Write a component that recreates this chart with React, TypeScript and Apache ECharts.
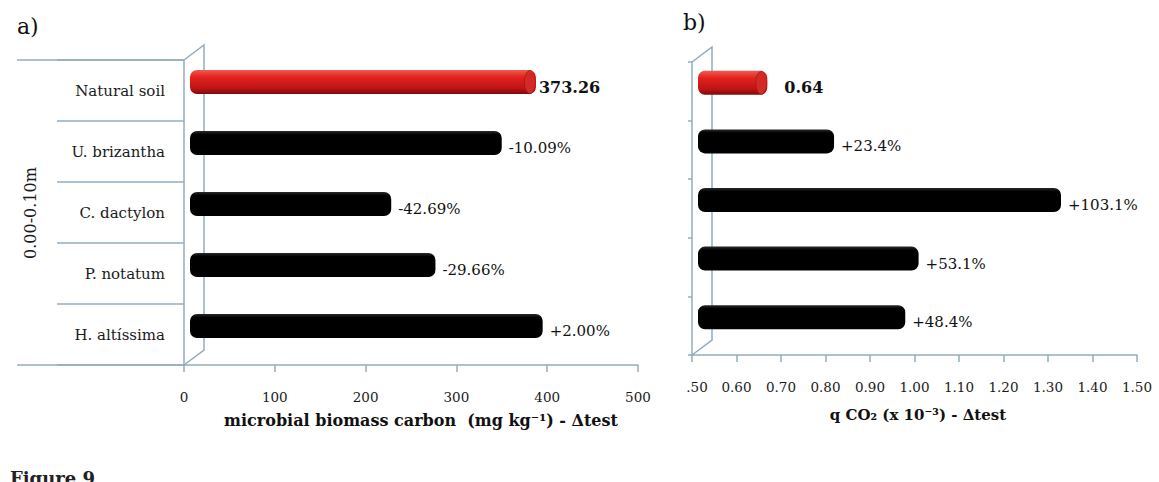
import React, { useEffect, useRef } from "react";
import * as echarts from "echarts";

const categories = ["Natural soil", "U. brizantha", "C. dactylon", "P. notatum", "H. altíssima"];
const biomassValues = [373.26, 335.6, 213.9, 262.6, 380.7];
const biomassLabels = ["373.26", "-10.09%", "-42.69%", "-29.66%", "+2.00%"];
const qco2Values = [0.64, 0.79, 1.3, 0.98, 0.95];
const qco2Labels = ["0.64", "+23.4%", "+103.1%", "+53.1%", "+48.4%"];
const biomassTicks = { min: 0, max: 500, interval: 100 };
const qco2Ticks = { min: 0.5, max: 1.5, interval: 0.1 };

const FONT = "'DejaVu Serif', 'Liberation Serif', serif";
const LINE = "#93acbe";

const A = { left: 184, top: 60, width: 454, height: 305 };
const B = { left: 692, top: 62, width: 445, height: 293 };
const DX = 20;
const DY = 15;

function makeRenderItem(base: number, labels: string[], firstGap: number) {
  return (params: any, api: any) => {
    const v = api.value(0);
    const cat = api.value(1);
    const idx = params.dataIndex;
    const p0 = api.coord([base, cat]);
    const p1 = api.coord([v, cat]);
    const h = 24;
    const cy = p0[1] - 8.5;
    const x0 = p0[0] + 6;
    const x1 = p1[0] + 13;
    const isRed = idx === 0;
    const fill = isRed
      ? new echarts.graphic.LinearGradient(0, 0, 0, 1, [
          { offset: 0, color: "#f05a50" },
          { offset: 0.3, color: "#e3221e" },
          { offset: 0.75, color: "#c01414" },
          { offset: 1, color: "#7e0a0a" },
        ])
      : new echarts.graphic.LinearGradient(0, 0, 0, 1, [
          { offset: 0, color: "#2a2a2a" },
          { offset: 0.15, color: "#000" },
          { offset: 1, color: "#000" },
        ]);
    const children: any[] = [
      {
        type: "rect",
        shape: { x: x0, y: cy - h / 2, width: x1 - x0, height: h, r: 7 },
        style: { fill },
      },
    ];
    if (isRed) {
      children.push({
        type: "ellipse",
        shape: { cx: x1 - 6, cy: cy, rx: 5.5, ry: h / 2 - 0.5 },
        style: { fill: "#d42a26", stroke: "#a01010", lineWidth: 0.6 },
      });
    }
    children.push({
      type: "text",
      style: {
        text: labels[idx],
        x: x1 + (isRed ? firstGap : 7),
        y: cy + 5,
        align: "left",
        verticalAlign: "middle",
        fill: "#111",
        fontFamily: FONT,
        fontSize: isRed ? 16 : 15,
        fontWeight: isRed ? "bold" : "normal",
      },
    });
    return { type: "group", children };
  };
}

export default function App() {
  const ref = useRef<HTMLDivElement>(null);
  useEffect(() => {
    document.body.style.margin = "0";
    if (!ref.current) return;
    const chart = echarts.init(ref.current, undefined, { renderer: "svg" });
    const axisLabelStyle = { color: "#1a1a1a", fontFamily: FONT, fontSize: 13.5 };
    const option: any = {
      animation: false,
      textStyle: { fontFamily: FONT },
      grid: [
        { left: A.left, top: A.top, width: A.width, height: A.height, containLabel: false },
        { left: B.left, top: B.top, width: B.width, height: B.height, containLabel: false },
      ],
      xAxis: [
        {
          type: "value",
          gridIndex: 0,
          min: biomassTicks.min,
          max: biomassTicks.max,
          interval: biomassTicks.interval,
          axisLine: { show: true, lineStyle: { color: LINE, width: 1.5 } },
          axisTick: { show: true, length: 7, lineStyle: { color: LINE, width: 1.5 } },
          axisLabel: { ...axisLabelStyle, margin: 25 },
          splitLine: { show: false },
        },
        {
          type: "value",
          gridIndex: 1,
          min: qco2Ticks.min,
          max: qco2Ticks.max,
          interval: qco2Ticks.interval,
          axisLine: { show: true, lineStyle: { color: LINE, width: 1.5 } },
          axisTick: { show: true, length: 7, lineStyle: { color: LINE, width: 1.5 } },
          axisLabel: {
            ...axisLabelStyle,
            margin: 25,
            formatter: (v: number) => (Math.abs(v - 0.5) < 1e-9 ? "{f|.50}" : v.toFixed(2)),
            rich: { f: { ...axisLabelStyle, padding: [0, 0, 0, 10] } },
          },
          splitLine: { show: false },
        },
      ],
      yAxis: [
        {
          type: "category",
          gridIndex: 0,
          data: categories,
          inverse: true,
          axisLine: { show: true, lineStyle: { color: LINE, width: 1.5 } },
          axisTick: { show: true, length: 127, lineStyle: { color: LINE, width: 1.5 } },
          axisLabel: { color: "#1a1a1a", fontFamily: FONT, fontSize: 15, margin: 19 },
        },
        {
          type: "category",
          gridIndex: 1,
          data: categories,
          inverse: true,
          axisLine: { show: true, lineStyle: { color: LINE, width: 1.5 } },
          axisTick: { show: true, length: 4, lineStyle: { color: LINE, width: 1.5 } },
          axisLabel: { show: false },
        },
      ],
      series: [
        {
          type: "custom",
          xAxisIndex: 0,
          yAxisIndex: 0,
          encode: { x: 0, y: 1 },
          data: biomassValues.map((v, i) => [v, i]),
          renderItem: makeRenderItem(biomassTicks.min, biomassLabels, 3),
          clip: false,
          z: 5,
        },
        {
          type: "custom",
          xAxisIndex: 1,
          yAxisIndex: 1,
          encode: { x: 0, y: 1 },
          data: qco2Values.map((v, i) => [v, i]),
          renderItem: makeRenderItem(qco2Ticks.min, qco2Labels, 17),
          clip: false,
          z: 5,
        },
      ],
      graphic: [
        // panel a 3D wall
        {
          type: "polyline",
          shape: {
            points: [
              [A.left, A.top],
              [A.left + DX, A.top - DY],
              [A.left + DX, A.top + A.height - DY],
              [A.left, A.top + A.height],
            ],
          },
          style: { stroke: LINE, lineWidth: 1.5, fill: "none" },
        },
        {
          type: "line",
          shape: { x1: 17, y1: A.top + A.height, x2: A.left, y2: A.top + A.height },
          style: { stroke: LINE, lineWidth: 1.5 },
        },
        {
          type: "line",
          shape: { x1: 17, y1: A.top, x2: A.left, y2: A.top },
          style: { stroke: LINE, lineWidth: 1.5 },
        },
        // panel b 3D wall
        {
          type: "polyline",
          shape: {
            points: [
              [B.left, B.top],
              [B.left + DX, B.top - DY],
              [B.left + DX, B.top + B.height - DY],
              [B.left, B.top + B.height],
            ],
          },
          style: { stroke: LINE, lineWidth: 1.5, fill: "none" },
        },
        {
          type: "text",
          style: { text: "a)", x: 17, y: 26, verticalAlign: "middle", fontFamily: FONT, fontSize: 22, fill: "#111" },
        },
        {
          type: "text",
          style: { text: "b)", x: 683, y: 22, verticalAlign: "middle", fontFamily: FONT, fontSize: 22, fill: "#111" },
        },
        {
          type: "text",
          x: 30,
          y: 213,
          rotation: Math.PI / 2,
          style: {
            text: "0.00-0.10m",
            x: 0,
            y: 0,
            align: "center",
            verticalAlign: "middle",
            fontFamily: FONT,
            fontSize: 16,
            fill: "#1a1a1a",
          },
        },
        {
          type: "text",
          style: {
            text: "microbial biomass carbon  (mg kg⁻¹) - Δtest",
            x: 421,
            y: 420,
            align: "center",
            verticalAlign: "middle",
            fontFamily: FONT,
            fontSize: 16,
            fontWeight: "bold",
            fill: "#111",
          },
        },
        {
          type: "text",
          style: {
            text: "q CO₂ (x 10⁻³) - Δtest",
            x: 918,
            y: 415,
            align: "center",
            verticalAlign: "middle",
            fontFamily: FONT,
            fontSize: 15,
            fontWeight: "bold",
            fill: "#111",
          },
        },
        {
          type: "text",
          style: {
            text: "Figure 9",
            x: 10,
            y: 469,
            verticalAlign: "top",
            fontFamily: FONT,
            fontSize: 18,
            fontWeight: "bold",
            fill: "#222",
          },
        },
      ],
    };
    chart.setOption(option);
    return () => chart.dispose();
  }, []);
  return <div ref={ref} style={{ width: 1159, height: 482 }} />;
}
